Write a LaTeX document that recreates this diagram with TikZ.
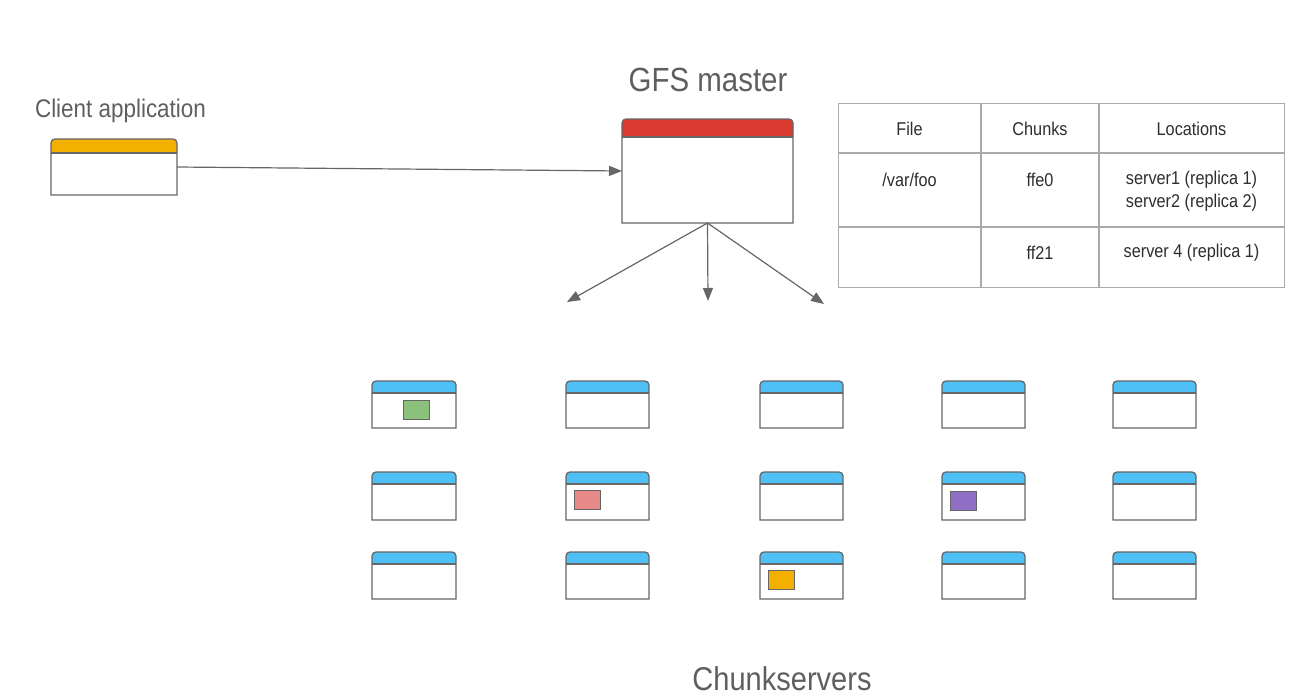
\documentclass[tikz,border=0pt]{standalone}
\usepackage{fontspec}
\setmainfont[FakeStretch=0.88]{Liberation Sans}
\usetikzlibrary{arrows.meta}
\definecolor{txtgray}{HTML}{5F5F5F}
\definecolor{tbltxt}{HTML}{2E2E2E}
\definecolor{linegray}{HTML}{666666}
\definecolor{tblline}{HTML}{AAAAAA}
\definecolor{hdrorange}{HTML}{F4B000}
\definecolor{hdrred}{HTML}{D93B30}
\definecolor{hdrblue}{HTML}{4FC0F5}
\definecolor{chgreen}{HTML}{8BC17A}
\definecolor{chred}{HTML}{E88A8A}
\definecolor{chpurple}{HTML}{8E6FC5}
\definecolor{chorange}{HTML}{F4B000}
\tikzset{
  boxline/.style={draw=linegray, line width=1.3pt},
  arr/.style={draw=linegray, line width=1.2pt, -{Triangle[length=13pt,width=10pt]}},
  title/.style={text=txtgray, inner sep=0pt},
  tcell/.style={text=tbltxt, font=\fontsize{18.5}{21}\selectfont, align=center, inner sep=0pt},
  chunk/.style={draw=linegray, line width=1.2pt, minimum width=26pt, minimum height=19pt, inner sep=0pt, anchor=north west},
  tline/.style={draw=tblline, line width=1.3pt}
}
\newcommand{\winbox}[7]{%
  \node[anchor=north west, minimum width=#4pt, minimum height=#5pt, inner sep=0pt, outer sep=0pt] (#1) at (#2,-#3) {};
  \fill[#7] ([yshift=-#6pt]#1.north west) -- ([yshift=-4pt]#1.north west) arc[start angle=180,end angle=90,radius=4pt] -- ([xshift=-4pt]#1.north east) arc[start angle=90,end angle=0,radius=4pt] -- ([yshift=-#6pt]#1.north east) -- cycle;
  \draw[boxline] ([yshift=-#6pt]#1.north west) -- ([yshift=-#6pt]#1.north east);
  \draw[boxline] (#1.south west) -- ([yshift=-4pt]#1.north west) arc[start angle=180,end angle=90,radius=4pt] -- ([xshift=-4pt]#1.north east) arc[start angle=90,end angle=0,radius=4pt] -- (#1.south east) -- cycle;
}
\begin{document}
\begin{tikzpicture}[x=1pt,y=1pt]
\useasboundingbox[fill=white] (0,0) rectangle (1316,-696);

% titles
\node[title, font=\fontsize{25.5}{30}\selectfont] (clientlbl) at (120.5,-111) {Client application};
\node[title, font=\fontsize{33.5}{40}\selectfont] (masterlbl) at (708,-80) {GFS master};
\node[title, font=\fontsize{33}{38}\selectfont] (cslbl) at (782,-679) {Chunkservers};

% client and master
\winbox{client}{51}{139}{126}{56}{14}{hdrorange}
\winbox{master}{622}{119}{171}{104}{18}{hdrred}

\draw[arr] (client.east) -- (master.west);

\coordinate (a1) at (567,-302);
\coordinate (a2) at (708,-301);
\coordinate (a3) at (824,-304);
\draw[arr] (master.south) -- (a1);
\draw[arr] (master.south) -- (a2);
\draw[arr] (master.south) -- (a3);

% table
\node[anchor=north west, minimum width=446pt, minimum height=184pt, inner sep=0pt, tline] (tbl) at (838,-103) {};
\draw[tline] (981,-103) -- (981,-287);
\draw[tline] (1099,-103) -- (1099,-287);
\draw[tline] (838,-153) -- (1284,-153);
\draw[tline] (838,-227) -- (1284,-227);
\node[tcell] (hfile) at (909.5,-129) {File};
\node[tcell] (hchunks) at (1040,-129) {Chunks};
\node[tcell] (hloc) at (1191.5,-129) {Locations};
\node[tcell] (r1file) at (909.5,-180) {/var/foo};
\node[tcell] (r1chunk) at (1040,-180) {ffe0};
\node[tcell, font=\fontsize{18.5}{23}\selectfont] (r1loc) at (1191.5,-191) {server1 (replica 1)\\server2 (replica 2)};
\node[tcell] (r2chunk) at (1040,-253) {ff21};
\node[tcell] (r2loc) at (1191.5,-253) {server 4 (replica 1)};

% chunkservers
\winbox{s11}{372}{381}{84}{47}{12}{hdrblue}
\winbox{s12}{566}{381}{83}{47}{12}{hdrblue}
\winbox{s13}{760}{381}{83}{47}{12}{hdrblue}
\winbox{s14}{942}{381}{83}{47}{12}{hdrblue}
\winbox{s15}{1113}{381}{83}{47}{12}{hdrblue}
\winbox{s21}{372}{472}{84}{48}{12}{hdrblue}
\winbox{s22}{566}{472}{83}{48}{12}{hdrblue}
\winbox{s23}{760}{472}{83}{48}{12}{hdrblue}
\winbox{s24}{942}{472}{83}{48}{12}{hdrblue}
\winbox{s25}{1113}{472}{83}{48}{12}{hdrblue}
\winbox{s31}{372}{552}{84}{47}{12}{hdrblue}
\winbox{s32}{566}{552}{83}{47}{12}{hdrblue}
\winbox{s33}{760}{552}{83}{47}{12}{hdrblue}
\winbox{s34}{942}{552}{83}{47}{12}{hdrblue}
\winbox{s35}{1113}{552}{83}{47}{12}{hdrblue}

\node[chunk, fill=chgreen] (c1) at (403,-400) {};
\node[chunk, fill=chred] (c2) at (574,-490) {};
\node[chunk, fill=chpurple] (c3) at (950,-491) {};
\node[chunk, fill=chorange] (c4) at (768,-570) {};
\end{tikzpicture}
\end{document}
